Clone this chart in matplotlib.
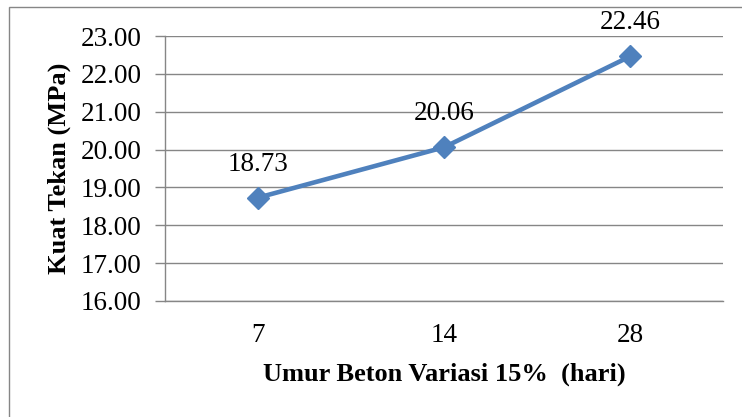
import matplotlib.pyplot as plt
from matplotlib.patches import Rectangle

umur = ['7', '14', '28']
kuat_tekan = [18.73, 20.06, 22.46]
y_ticks = [16, 17, 18, 19, 20, 21, 22, 23]

plt.rcParams['font.family'] = ['Liberation Serif', 'DejaVu Serif']

W, H = 742, 417
fig = plt.figure(figsize=(W / 100, H / 100), dpi=100)
ax = fig.add_axes([165 / W, 1 - 301 / H, (723 - 165) / W, (301 - 36) / H])

# outer chart border
fig.patches.append(Rectangle((9 / W, -0.05), 1.2, 1 - 7 / H + 0.05,
                             transform=fig.transFigure, fill=False,
                             edgecolor='#868686', linewidth=1))

x = range(len(umur))
ax.plot(x, kuat_tekan, color='#4F81BD', linewidth=3.3, marker='D',
        markersize=11, zorder=3)

for xi, v in zip(x, kuat_tekan):
    ax.annotate(f'{v:.2f}', (xi, v), xytext=(0, 19.5), textcoords='offset points',
                ha='center', va='baseline', fontsize=19.5)

ax.set_xlim(-0.5, len(umur) - 0.5)
ax.set_ylim(16, 23)
ax.set_yticks(y_ticks)
ax.set_yticklabels([f'{t:.2f}' for t in y_ticks], fontsize=19.5)
ax.set_xticks(list(x))
ax.set_xticklabels(umur, fontsize=19.5)
ax.tick_params(axis='x', length=0, pad=16)
ax.tick_params(axis='y', length=7, color='#868686', width=1, pad=10)

ax.grid(axis='y', color='#868686', linewidth=1)
ax.set_axisbelow(True)
for s in ['top', 'right']:
    ax.spines[s].set_visible(False)
for s in ['left', 'bottom']:
    ax.spines[s].set_color('#868686')
    ax.spines[s].set_linewidth(1)

ax.set_xlabel('Umur Beton Variasi 15%  (hari)', fontsize=19, fontweight='bold')
ax.set_ylabel('Kuat Tekan (MPa)', fontsize=19, fontweight='bold')
ax.xaxis.set_label_coords(0.5, -0.232)
ax.yaxis.set_label_coords(-0.168, 0.5)

fig.savefig('out.png', dpi=100)
